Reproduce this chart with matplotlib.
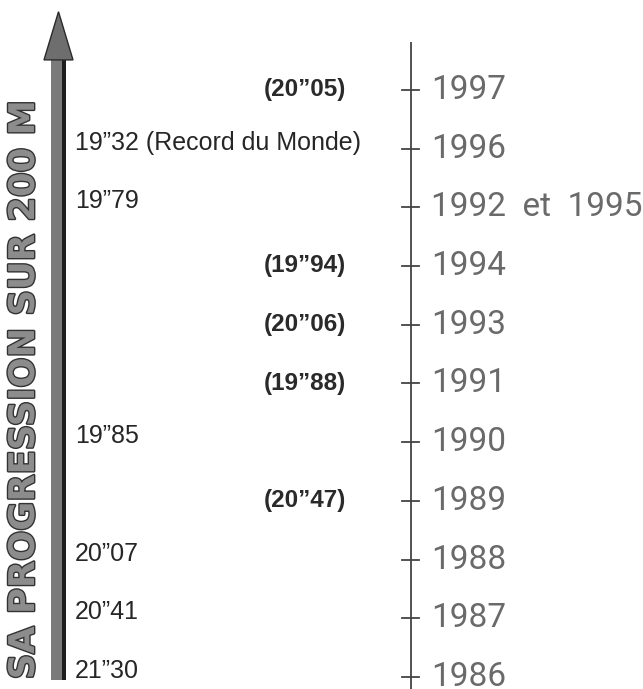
import matplotlib
matplotlib.use("Agg")
import matplotlib.pyplot as plt
import matplotlib.patheffects as pe
from matplotlib.patches import Polygon, Rectangle

# ---- data ----
years = ["1986", "1987", "1988", "1989", "1990", "1991", "1993", "1994",
         "1992 et 1995", "1996", "1997"]
best_times = ["21”30", "20”41", "20”07", "", "19”85", "", "", "",
              "19”79", "19”32 (Record du Monde)", ""]
other_times = ["", "", "", "(20”47)", "", "(19”88)", "(20”06)", "(19”94)",
               "", "", "(20”05)"]
title = "SA PROGRESSION SUR 200 M"

fig = plt.figure(figsize=(6.43, 6.89), dpi=100)
ax = fig.add_axes([0, 0, 1, 1])
ax.set_xlim(0, 643)
ax.set_ylim(-0.204, 11.53)
ax.axis("off")

idx = list(range(len(years)))

# timeline
axis_x = 411
ax.plot([axis_x, axis_x], [-0.3, 10.82], color="#444444", lw=1.3, solid_capstyle="butt")
for i in idx:
    ax.plot([axis_x - 9, axis_x + 8], [i, i], color="#444444", lw=1.3)
    ax.text(axis_x + 20, i, years[i].replace(" ", "  "), ha="left", va="center",
            fontsize=24, family="Roboto", fontweight="normal", color="#6a6a6a")

# left times
for i in idx:
    if best_times[i]:
        ax.text(75, i + 0.1, best_times[i], ha="left", va="center",
                fontsize=18, family="Liberation Sans", color="#262626")
    if other_times[i]:
        ax.text(346, i, other_times[i], ha="right", va="center",
                fontsize=17.5, family="Liberation Sans", fontweight="bold",
                color="#2a2a2a")

# big arrow (shaft + head)
shaft_l, shaft_r = 51, 66
bottom_i, base_i, tip_i = -0.05, 10.51, 11.33
ax.add_patch(Rectangle((shaft_l, bottom_i), shaft_r - shaft_l - 4, base_i - bottom_i,
                       facecolor="#7a7a7a", edgecolor="none"))
ax.add_patch(Rectangle((shaft_r - 4, bottom_i), 4, base_i - bottom_i,
                       facecolor="#1e1e1e", edgecolor="none"))
ax.add_patch(Polygon([(44, base_i), (58.5, tip_i), (73, base_i)],
                     closed=True, facecolor="#6e6e6e", edgecolor="#2a2a2a", lw=1))

# rotated title
ax.text(24, 4.89, title, rotation=90, ha="center", va="center",
        fontsize=25.5, family="DejaVu Sans", fontweight="bold", color="#8c8c8c",
        path_effects=[pe.withStroke(linewidth=2, foreground="#333333")])

fig.savefig("out.png", dpi=100)
